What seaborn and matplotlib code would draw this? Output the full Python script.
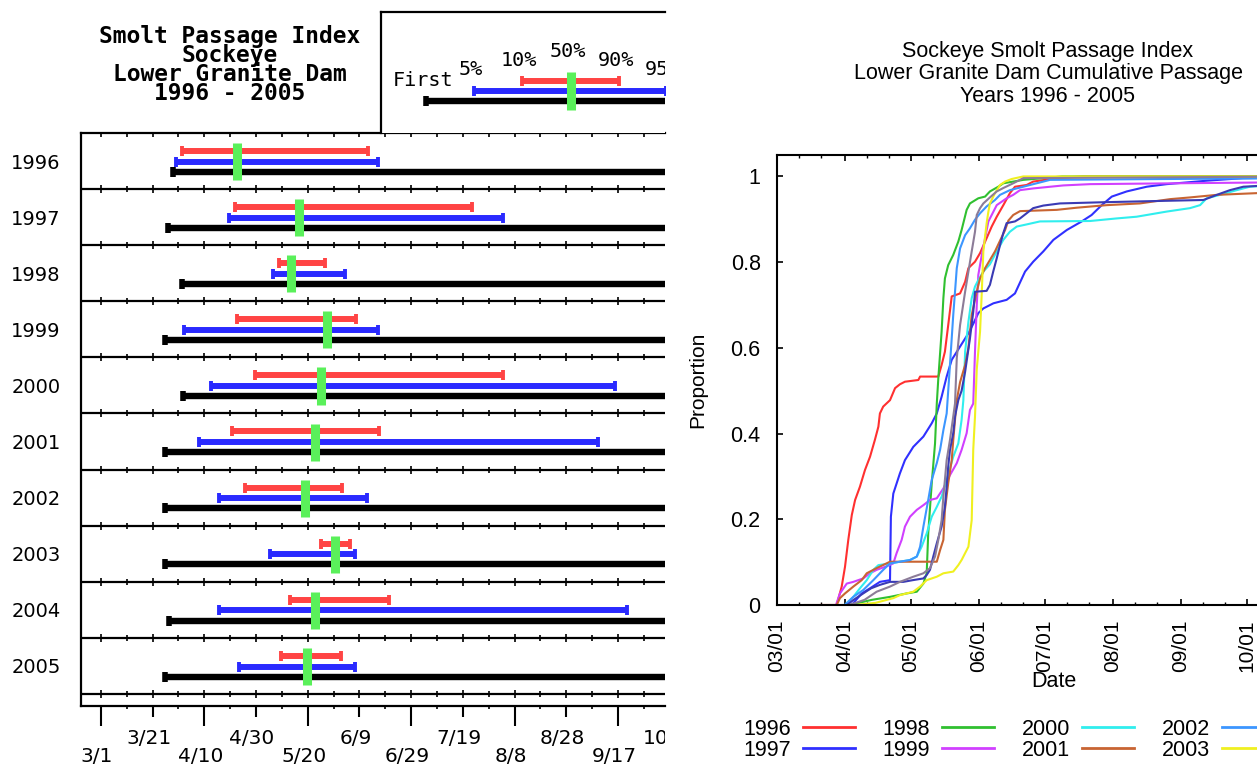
import numpy as np
import pandas as pd
import matplotlib
matplotlib.use("Agg")
import matplotlib.pyplot as plt
import matplotlib.transforms as mtransforms
from matplotlib.patches import Rectangle
from matplotlib.lines import Line2D
import seaborn as sns

plt.rcParams['font.family'] = ['Liberation Sans', 'DejaVu Sans']

# ---------------- data: left panel (days after 3/1) ----------------
years = [1996, 1997, 1998, 1999, 2000, 2001, 2002, 2003, 2004, 2005]
first_pass = [27.9, 25.8, 31.2, 24.8, 31.8, 24.8, 24.8, 24.8, 26.3, 24.8]
pct05 = [29.1, 49.6, 66.5, 32.3, 42.5, 37.8, 45.6, 65.6, 45.6, 53.3]
pct10 = [31.5, 51.7, 68.9, 52.5, 59.7, 50.9, 55.8, 85.0, 73.0, 69.6]
pct50 = [52.8, 76.8, 73.5, 87.6, 85.1, 82.8, 79.0, 90.6, 82.8, 79.7]
pct90 = [103.4, 143.6, 86.5, 98.5, 155.4, 107.5, 93.2, 96.5, 111.3, 92.7]
pct95 = [107.3, 155.4, 94.4, 107.3, 198.9, 192.3, 102.9, 98.1, 203.4, 98.1]
last_pass = [245, 245, 245, 245, 245, 245, 245, 245, 245, 245]

left_tick_days = [0, 20, 40, 60, 80, 100, 120, 140, 160, 180, 200, 220]
left_tick_labels = ["3/1", "3/21", "4/10", "4/30", "5/20", "6/9", "6/29",
                    "7/19", "8/8", "8/28", "9/17", "10/7"]

legend_keys = ["First", "5%", "10%", "50%", "90%", "95%"]
legend_vals = [125.8, 144.4, 162.8, 181.9, 200.5, 218.6]
legend_last = 245

title_left = ["Smolt Passage Index", "Sockeye", "Lower Granite Dam", "1996 - 2005"]

# ---------------- data: right panel ----------------
month_days = [0, 31, 61, 92, 122, 153, 184, 214, 245]
month_labels = ["03/01", "04/01", "05/01", "06/01", "07/01", "08/01", "09/01", "10/01", "11/01"]
ytick_vals = [0, 0.2, 0.4, 0.6, 0.8, 1.0]
ytick_labels = ["0", "0.2", "0.4", "0.6", "0.8", "1"]

d1996 = [20, 27.3, 29.6, 31.1, 32.6, 34.2, 35.7, 37.9, 40.2, 42.5, 44.7, 46.3, 47.0, 48.5, 51.6, 53.9,
         56.1, 58.4, 64.5, 65.3, 73.6, 75.1, 76.6, 78.1, 79.7, 83.5, 85.8, 87.3, 90.3, 92.6, 95.6, 97.9,
         100.2, 103.2, 106.2, 108.5, 113.8, 116.8, 122.2, 125.2, 139.6, 245]
p1996 = [0, 0, 0.043, 0.089, 0.152, 0.21, 0.245, 0.276, 0.315, 0.346, 0.385, 0.416, 0.447, 0.463, 0.478,
         0.506, 0.515, 0.521, 0.525, 0.533, 0.533, 0.56, 0.591, 0.653, 0.72, 0.727, 0.754, 0.786, 0.801,
         0.821, 0.856, 0.883, 0.906, 0.933, 0.961, 0.976, 0.98, 0.988, 0.992, 0.996, 1.0, 1.0]
d1997 = [30, 34.2, 38.7, 42.5, 47.0, 51.6, 52.0, 53.1, 56.1, 58.4, 62.2, 66.8, 70.6, 72.9, 75.1, 77.4,
         79.7, 83.5, 87.3, 89.6, 91.8, 94.1, 98.7, 104.7, 108.5, 113.1, 116.8, 121.4, 126.0, 132.1,
         138.9, 143.4, 148.0, 152.6, 159.4, 168.5, 177.6, 195.8, 212.3, 245]
p1997 = [0, 0.0, 0.027, 0.039, 0.054, 0.058, 0.206, 0.26, 0.307, 0.338, 0.369, 0.393, 0.424, 0.447,
         0.486, 0.533, 0.572, 0.603, 0.634, 0.657, 0.681, 0.692, 0.704, 0.712, 0.727, 0.778, 0.801,
         0.825, 0.852, 0.875, 0.895, 0.91, 0.933, 0.953, 0.965, 0.976, 0.982, 0.99, 0.996, 0.998]
d1998 = [33, 43.3, 51.6, 59.2, 63.8, 66.8, 68.3, 69.0, 70.6, 72.1, 72.9, 73.6, 75.1, 75.9, 76.6, 78.1,
         80.4, 82.7, 84.2, 86.5, 88.0, 91.8, 94.9, 97.1, 100.9, 103.2, 112.3, 121.4, 130, 245]
p1998 = [0, 0.012, 0.019, 0.027, 0.031, 0.05, 0.074, 0.167, 0.284, 0.377, 0.47, 0.529, 0.638, 0.716,
         0.762, 0.793, 0.817, 0.848, 0.875, 0.922, 0.937, 0.949, 0.953, 0.965, 0.976, 0.984, 0.992,
         0.996, 1.0, 1.0]
d1999 = [27, 28.8, 31.9, 34.9, 39.4, 42.5, 45.5, 49.3, 53.1, 54.6, 56.9, 58.4, 60.7, 63.8, 66.8, 69.8,
         72.9, 75.9, 78.9, 82.0, 84.2, 86.5, 88.0, 89.5, 90.3, 91.1, 91.8, 93.4, 94.9, 96.4, 97.9, 100.2,
         104.7, 107.7, 110.8, 116.8, 130.5, 142.7, 182.1, 245]
p1999 = [0, 0.027, 0.05, 0.054, 0.062, 0.074, 0.082, 0.089, 0.097, 0.121, 0.152, 0.183, 0.206, 0.222,
         0.233, 0.245, 0.249, 0.272, 0.303, 0.331, 0.362, 0.401, 0.455, 0.47, 0.591, 0.70, 0.77, 0.817,
         0.856, 0.895, 0.91, 0.933, 0.949, 0.957, 0.968, 0.972, 0.979, 0.982, 0.984, 0.987]
d2000 = [31, 34.9, 37.9, 41.0, 44.0, 46.3, 51.6, 56.1, 60.7, 63.8, 66.0, 68.3, 70.6, 72.9, 75.1, 77.4,
         80.4, 82.7, 84.2, 85.0, 85.8, 87.3, 88.8, 90.3, 91.8, 94.1, 97.1, 100.2, 103.2, 106.2, 109.3,
         113.8, 119.9, 142.7, 154.8, 163.9, 177.6, 188.2, 192.8, 195.8, 201.9, 209.5, 215.5, 245]
p2000 = [0, 0.019, 0.039, 0.058, 0.082, 0.093, 0.097, 0.101, 0.105, 0.113, 0.136, 0.167, 0.206, 0.229,
         0.253, 0.292, 0.346, 0.377, 0.432, 0.478, 0.591, 0.661, 0.716, 0.743, 0.758, 0.778, 0.795,
         0.825, 0.852, 0.871, 0.883, 0.888, 0.895, 0.896, 0.902, 0.906, 0.918, 0.926, 0.933, 0.949,
         0.957, 0.968, 0.976, 0.985]
d2001 = [12.9, 27.3, 28.8, 31.1, 34.9, 38.7, 41.0, 45.5, 51.6, 72.9, 74.4, 75.9, 76.6, 78.1, 79.7, 80.4,
         81.2, 82.0, 83.5, 85.8, 87.3, 88.8, 91.1, 92.6, 94.9, 97.1, 99.4, 101.7, 104.0, 105.5, 107.7,
         110.8, 127.5, 136.6, 150.3, 165.4, 179.1, 188.2, 200.4, 218.6, 245]
p2001 = [0, 0, 0.016, 0.027, 0.043, 0.058, 0.074, 0.086, 0.101, 0.101, 0.128, 0.152, 0.222, 0.284,
         0.338, 0.385, 0.432, 0.478, 0.52, 0.56, 0.60, 0.677, 0.731, 0.762, 0.786, 0.805, 0.825, 0.85,
         0.875, 0.897, 0.91, 0.919, 0.922, 0.927, 0.933, 0.937, 0.947, 0.951, 0.957, 0.961, 0.965]
d2002 = [31, 34.9, 39.4, 44.0, 48.5, 51.6, 56.1, 60.7, 63.8, 65.3, 66.8, 69.0, 70.6, 72.9, 74.4, 75.9,
         77.4, 78.9, 80.4, 81.2, 82.0, 83.5, 85.8, 88.0, 90.3, 92.6, 95.6, 99.4, 101.7, 106.2, 112.3,
         118.4, 124.5, 177.6, 245]
p2002 = [0, 0.019, 0.035, 0.058, 0.082, 0.097, 0.101, 0.105, 0.113, 0.136, 0.183, 0.245, 0.292, 0.331,
         0.362, 0.408, 0.447, 0.56, 0.677, 0.731, 0.786, 0.832, 0.863, 0.879, 0.899, 0.914, 0.93, 0.945,
         0.957, 0.968, 0.976, 0.984, 0.992, 0.994, 0.996]
d2003 = [35.6, 45, 53.1, 56.1, 62.2, 65.3, 68.3, 72.9, 75.9, 80.4, 82.7, 84.2, 85.8, 87.3, 88.8, 89.5,
         90.3, 91.1, 92.6, 93.4, 94.1, 95.6, 96.4, 97.1, 99.4, 101.7, 104.0, 107.0, 112.3, 245]
p2003 = [0, 0.005, 0.016, 0.023, 0.031, 0.043, 0.058, 0.066, 0.074, 0.078, 0.093, 0.105, 0.121, 0.136,
         0.198, 0.362, 0.44, 0.55, 0.638, 0.731, 0.825, 0.891, 0.918, 0.937, 0.961, 0.98, 0.988, 0.994,
         1.0, 1.0]
d2004 = [32, 35, 39.4, 43, 47.0, 51.6, 57.7, 62, 66.8, 68.3, 69.8, 71.3, 72.9, 75.1, 76.6, 77.4, 78.1,
         78.9, 80.4, 81.2, 82.7, 84.2, 85.8, 88.0, 89.5, 90.3, 95.6, 97.1, 98.6, 100.2, 101.7, 103.2,
         104.7, 108.5, 110.8, 113.8, 116.8, 121.4, 129.0, 150.3, 176.1, 194.3, 200.4, 206.4, 212.5, 245]
p2004 = [0, 0.012, 0.027, 0.039, 0.047, 0.054, 0.054, 0.058, 0.062, 0.07, 0.082, 0.113, 0.144, 0.183,
         0.229, 0.276, 0.323, 0.362, 0.401, 0.44, 0.478, 0.50, 0.544, 0.622, 0.684, 0.731, 0.733, 0.747,
         0.778, 0.809, 0.84, 0.868, 0.891, 0.895, 0.902, 0.914, 0.926, 0.932, 0.937, 0.94, 0.943, 0.945,
         0.957, 0.968, 0.976, 0.985]
d2005 = [33, 40, 45.5, 51.6, 56.1, 62.2, 66.8, 69.8, 72.1, 73.6, 75.1, 75.9, 76.6, 77.4, 78.9, 80.4,
         81.2, 82.0, 83.5, 85.8, 87.3, 88.8, 90.3, 91.1, 92.6, 94.1, 97.1, 100.2, 103.2, 107.7, 112.3, 245]
p2005 = [0, 0.012, 0.031, 0.043, 0.054, 0.066, 0.074, 0.086, 0.113, 0.152, 0.198, 0.253, 0.292, 0.338,
         0.385, 0.44, 0.47, 0.576, 0.653, 0.731, 0.778, 0.825, 0.871, 0.91, 0.926, 0.937, 0.951, 0.965,
         0.973, 0.984, 0.996, 1.0]

curve_days = [d1996, d1997, d1998, d1999, d2000, d2001, d2002, d2003, d2004, d2005]
curve_props = [p1996, p1997, p1998, p1999, p2000, p2001, p2002, p2003, p2004, p2005]

line_colors = ['#ff3030', '#3030ff', '#30c030', '#d040ff', '#30eeee',
               '#c86432', '#3c96ff', '#f0f020', '#3a3ab4', '#8c7c98']

title_right = ["Sockeye Smolt Passage Index", "Lower Granite Dam Cumulative Passage", "Years 1996 - 2005"]

# ---------------- figure ----------------
W, H = 1257, 765
fig = plt.figure(figsize=(W / 100, H / 100), dpi=100)
fx = lambda px: px / W
fy = lambda py: 1 - py / H

RED, BLUE, GREEN = '#ff4444', '#2a2aff', '#5af05a'

# ======== left panel ========
x_lo, x_hi = -7.7, 218.2
y_bottom = 10.214
axL = fig.add_axes([fx(81), fy(706), fx(665) - fx(81), fy(133) - fy(706)])
axL.set_xlim(x_lo, x_hi)
axL.set_ylim(y_bottom, 0)
for s in ['left', 'top', 'bottom']:
    axL.spines[s].set_linewidth(1.6)
axL.spines['right'].set_visible(False)
axL.set_xticks([])
rows = np.arange(len(years))
axL.set_yticks(rows + 0.5, labels=[str(y) for y in years])
axL.tick_params(axis='y', length=0, pad=14.5, labelsize=14, labelfontfamily='DejaVu Sans')

# row separators with crossing ticks
axL.hlines(rows + 1, x_lo, x_hi, color='black', lw=1.6)
grid10 = np.arange(0, x_hi, 10)
grid20 = grid10[::2]
grid_odd = grid10[1::2]
for sep in rows + 1:
    axL.plot(grid20, np.full(len(grid20), sep), ls='none', marker='|', ms=6, mew=1.2, color='black')
    axL.plot(grid_odd, np.full(len(grid_odd), sep), ls='none', marker='|', ms=4, mew=1.2, color='black')
axL.plot(grid10, np.zeros(len(grid10)), ls='none', marker=3, ms=3, mew=1.2, color='black', clip_on=False)

# bottom axis ticks
tick_arr = np.array(left_tick_days)
vis = tick_arr <= x_hi
lower_days = tick_arr[::2][vis[::2]]
upper_days = tick_arr[1::2][vis[1::2]]
axL.plot(lower_days, np.full(len(lower_days), y_bottom), ls='none', marker=3, ms=14.5, mew=1.5,
         color='black', clip_on=False)
axL.plot(upper_days, np.full(len(upper_days), y_bottom), ls='none', marker=3, ms=8, mew=1.5,
         color='black', clip_on=False)
axL.plot(grid_odd, np.full(len(grid_odd), y_bottom), ls='none', marker=3, ms=2.5, mew=1.2,
         color='black', clip_on=False)

clip_rect = Rectangle((0, 0), fx(665), 1, transform=fig.transFigure)
lab_tr = (mtransforms.blended_transform_factory(axL.transData, fig.transFigure)
          + mtransforms.ScaledTranslation(-4 / 100, 0, fig.dpi_scale_trans))
for k, (d, lbl) in enumerate(zip(left_tick_days, left_tick_labels)):
    yy = fy(757) if k % 2 == 0 else fy(738)
    t = axL.text(d, yy, lbl, transform=lab_tr, ha='center', va='center', fontsize=14.5,
                 family='DejaVu Sans', clip_on=True)
    t.set_clip_path(clip_rect)

# bars
Y_RED, Y_BLUE, Y_BLACK, G_TOP, G_BOT = 0.32, 0.51, 0.69, 0.18, 0.84
axL.hlines(rows + Y_BLACK, first_pass, last_pass, color='black', lw=4.6)
axL.plot(first_pass, rows + Y_BLACK, ls='none', marker='|', ms=7, mew=4, color='black')
axL.hlines(rows + Y_BLUE, pct05, pct95, color=BLUE, lw=4.3)
axL.plot(pct05 + pct95, np.concatenate([rows, rows]) + Y_BLUE, ls='none', marker='|', ms=7.5,
         mew=2.8, color=BLUE)
axL.hlines(rows + Y_RED, pct10, pct90, color=RED, lw=4.3)
axL.plot(pct10 + pct90, np.concatenate([rows, rows]) + Y_RED, ls='none', marker='|', ms=7.5,
         mew=2.8, color=RED)
axL.vlines(pct50, rows + G_TOP, rows + G_BOT, color=GREEN, lw=6.5)

# legend box
ppd = (665 - 81) / (x_hi - x_lo)
axG = fig.add_axes([fx(381), fy(133), fx(665) - fx(381), fy(12) - fy(133)])
axG.set_xlim(x_lo + (381 - 81) / ppd, x_hi)
axG.set_ylim(1, 0)
axG.set_xticks([]); axG.set_yticks([])
axG.spines['right'].set_visible(False)
axG.spines['bottom'].set_visible(False)
axG.spines['left'].set_linewidth(1.6)
axG.spines['top'].set_linewidth(1.6)
lv = dict(zip(legend_keys, legend_vals))
axG.hlines(0.736, lv["First"], legend_last, color='black', lw=4.6)
axG.plot([lv["First"]], [0.736], marker='|', ms=7, mew=4, color='black')
axG.hlines(0.653, lv["5%"], lv["95%"], color=BLUE, lw=4.3)
axG.plot([lv["5%"], lv["95%"]], [0.653, 0.653], ls='none', marker='|', ms=7.5, mew=2.8, color=BLUE)
axG.hlines(0.570, lv["10%"], lv["90%"], color=RED, lw=4.3)
axG.plot([lv["10%"], lv["90%"]], [0.570, 0.570], ls='none', marker='|', ms=7.5, mew=2.8, color=RED)
axG.vlines(lv["50%"], 0.498, 0.81, color=GREEN, lw=6.5)
leg_label_y = [0.562, 0.479, 0.397, 0.328, 0.402, 0.479]
g_tr = axG.transData + mtransforms.ScaledTranslation(-3 / 100, 0, fig.dpi_scale_trans)
for key, yy in zip(legend_keys, leg_label_y):
    axG.text(lv[key], yy, key, transform=g_tr, ha='center', va='center', fontsize=14.5,
             family='DejaVu Sans Mono', clip_on=True)

fig.text(fx(230), fy(65), "\n".join(title_left), ha='center', va='center', ma='center',
         fontsize=16.5, family='DejaVu Sans Mono', weight='bold', linespacing=0.78)

# ======== right panel ========
x_end = month_days[-1]
ppd_r = 2.196
axR = fig.add_axes([fx(776.7), fy(605), x_end * ppd_r / W, fy(155) - fy(605)])
frames = []
for yr, d, p in zip(years, curve_days, curve_props):
    frames.append(pd.DataFrame({'day': d, 'prop': p, 'year': str(yr)}))
df = pd.concat(frames, ignore_index=True)
pal = {str(y): c for y, c in zip(years, line_colors)}
sns.lineplot(data=df, x='day', y='prop', hue='year', palette=pal, estimator=None, sort=False,
             legend=False, linewidth=1.5, ax=axR)
axR.set_xlim(0, x_end)
axR.set_ylim(0, 1.05)
axR.set_xlabel('')
axR.set_ylabel('')
axR.set_xticks(month_days, labels=month_labels, rotation=90)
minor_days = [m + off for m in month_days[:-1] for off in (10, 20)]
axR.set_xticks(minor_days, minor=True)
axR.set_yticks(ytick_vals, labels=ytick_labels)
axR.tick_params(axis='x', which='major', direction='in', top=True, bottom=True, length=4.5,
                width=1.2, labelsize=15, pad=10.5)
axR.tick_params(axis='x', which='minor', direction='in', top=True, bottom=True, length=2.5, width=1.0)
axR.tick_params(axis='y', direction='in', left=True, right=False, length=4.5, width=1.2,
                labelsize=15.5, pad=11.5)
for s in ['left', 'top', 'bottom']:
    axR.spines[s].set_linewidth(1.5)
axR.spines['right'].set_visible(False)
axR.text((698 - 776.7) / (x_end * ppd_r), 0.5, 'Proportion', rotation=90, transform=axR.transAxes,
         ha='center', va='center', fontsize=15)
fig.text(fx(1054), fy(681.7), 'Date', ha='center', va='center', fontsize=15.5)
fig.text(fx(1048), fy(74), "\n".join(title_right), ha='center', va='center', ma='center',
         fontsize=15.5, linespacing=1.07)

handles = [Line2D([0], [0], color=c, lw=2) for c in line_colors]
fig.legend(handles, [str(y) for y in years], loc='upper left', bbox_to_anchor=(fx(743), fy(719)),
           ncol=5, markerfirst=False, frameon=False, fontsize=15.5, handlelength=2.42,
           handletextpad=0.58, columnspacing=1.26, labelspacing=0.0, borderpad=0, borderaxespad=0)

fig.savefig('out.png', dpi=100)
